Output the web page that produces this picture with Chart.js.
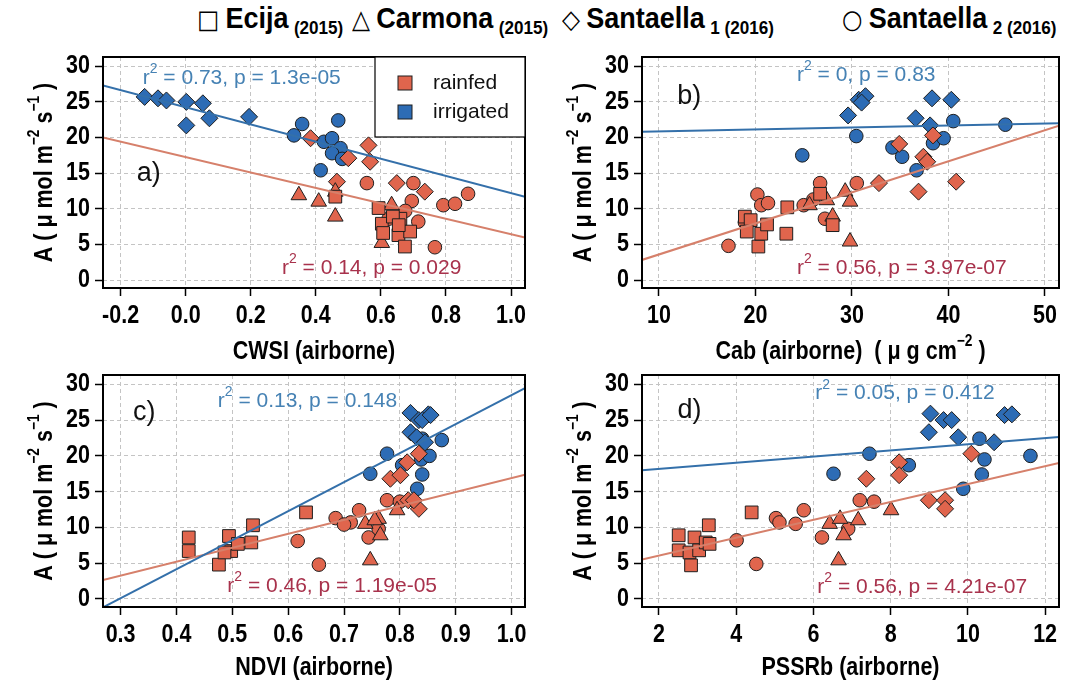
<!DOCTYPE html>
<html>
<head>
<meta charset="utf-8">
<script src="https://cdn.jsdelivr.net/npm/chart.js@4"></script>
<style>
  body { margin: 0; width: 1069px; height: 685px; background: #fff; position: relative; overflow: hidden; }
  canvas { position: absolute; }
  .site { position: absolute; top: 0; height: 40px; line-height: 36px; white-space: nowrap;
          font-family: "Liberation Sans", Arial, sans-serif; font-weight: bold; font-size: 30px; color: #000;
          transform: scaleX(0.9); transform-origin: left center; }
  .site .sym { font-family: "DejaVu Sans", sans-serif; font-weight: normal; font-size: 26px; margin-right: 7px; }
  .site sub { font-size: 19px; vertical-align: -6px; margin-left: 6px; }
</style>
</head>
<body>
<div class="site" style="left:197px"><span class="sym">□</span>Ecija<sub>(2015)</sub></div>
<div class="site" style="left:352px"><span class="sym">△</span>Carmona<sub>(2015)</sub></div>
<div class="site" style="left:562px"><span class="sym">◇</span>Santaella<sub>1 (2016)</sub></div>
<div class="site" style="left:842px"><span class="sym">○</span>Santaella<sub>2 (2016)</sub></div>

<canvas id="panelA" width="535" height="327" style="left:0;top:38px"></canvas>
<canvas id="panelB" width="534" height="327" style="left:535px;top:38px"></canvas>
<canvas id="panelC" width="535" height="320" style="left:0;top:365px"></canvas>
<canvas id="panelD" width="534" height="320" style="left:535px;top:365px"></canvas>

<script>
// A (umol m-2 s-1) against each airborne index, [x, A]
// a) CWSI
const cwsiEcija = [[0.46, 11.7], [0.593, 10.1], [0.603, 7.9], [0.607, 6.6], [0.654, 6.3], [0.69, 6.8], [0.674, 4.7], [0.66, 8.6], [0.637, 8.9], [0.655, 7.7]];
const cwsiCarmona = [[0.348, 11.9], [0.409, 11.0], [0.46, 12.4], [0.46, 8.9], [0.633, 10.5], [0.603, 5.2]];
const cwsiSant1Rainfed = [[0.384, 19.9], [0.50, 17.1], [0.562, 18.9], [0.567, 16.6], [0.465, 13.8], [0.649, 13.6], [0.735, 12.4]];
const cwsiSant1Irrigated = [[-0.126, 25.7], [-0.085, 25.5], [-0.059, 25.2], [0.002, 25.0], [0.053, 24.8], [0.073, 22.7], [0.002, 21.7], [0.195, 22.9]];
const cwsiSant2Rainfed = [[0.557, 13.6], [0.70, 13.6], [0.695, 11.1], [0.624, 8.6], [0.715, 8.2], [0.675, 9.7], [0.792, 10.5], [0.828, 10.7], [0.868, 12.1], [0.766, 4.6]];
const cwsiSant2Irrigated = [[0.333, 20.3], [0.358, 21.9], [0.469, 22.4], [0.425, 19.4], [0.45, 19.9], [0.476, 18.5], [0.45, 17.8], [0.481, 17.0], [0.415, 15.4]];

// b) Cab (ug cm-2)
const cabEcija = [[18.9, 8.9], [19.5, 8.4], [19.1, 6.8], [20.3, 4.7], [20.6, 6.5], [21.2, 7.8], [23.2, 6.5], [23.3, 10.2], [26.7, 12.1], [28.0, 7.7]];
const cabCarmona = [[29.3, 12.4], [29.8, 11.0], [29.8, 5.4], [27.4, 11.2], [25.6, 10.5], [28.0, 8.9]];
const cabSant1Rainfed = [[32.8, 13.6], [36.9, 12.4], [37.4, 17.3], [37.8, 16.6], [38.4, 20.3], [34.9, 19.1], [40.8, 13.8]];
const cabSant1Irrigated = [[29.6, 23.1], [30.7, 25.3], [31.4, 25.8], [31.0, 24.9], [36.6, 22.7], [38.3, 25.5], [40.3, 25.3], [38.1, 21.7]];
const cabSant2Rainfed = [[17.2, 4.8], [20.2, 12.0], [20.6, 10.5], [21.3, 10.8], [18.9, 8.1], [25.0, 10.5], [26.7, 13.6], [27.2, 8.6], [30.5, 13.6], [26.0, 11.3]];
const cabSant2Irrigated = [[24.85, 17.5], [30.45, 20.2], [34.2, 18.6], [35.2, 17.3], [36.7, 15.4], [38.4, 19.2], [39.5, 19.9], [40.5, 22.3], [45.9, 21.8]];

// c) NDVI
const ndviEcija = [[0.422, 8.6], [0.422, 6.7], [0.476, 4.8], [0.494, 8.8], [0.498, 6.7], [0.486, 6.5], [0.534, 7.9], [0.537, 10.3], [0.632, 12.1], [0.51, 7.7]];
const ndviCarmona = [[0.795, 12.4], [0.747, 5.4], [0.738, 10.5], [0.762, 11.2], [0.765, 8.9], [0.755, 11.0]];
const ndviSant1Rainfed = [[0.783, 16.8], [0.801, 17.3], [0.813, 19.1], [0.834, 20.3], [0.815, 13.8], [0.834, 12.6], [0.825, 13.8]];
const ndviSant1Irrigated = [[0.819, 26.0], [0.851, 25.8], [0.834, 25.0], [0.840, 25.0], [0.819, 23.3], [0.83, 22.6], [0.845, 21.9], [0.855, 25.7]];
const ndviSant2Rainfed = [[0.617, 8.1], [0.655, 4.8], [0.685, 11.3], [0.712, 10.7], [0.70, 10.4], [0.727, 12.4], [0.744, 8.6], [0.762, 9.8], [0.777, 13.8], [0.80, 13.6]];
const ndviSant2Irrigated = [[0.747, 17.5], [0.777, 20.3], [0.804, 18.7], [0.831, 15.4], [0.84, 17.4], [0.838, 19.5], [0.853, 20.0], [0.84, 22.4], [0.875, 22.2]];

// d) PSSRb
const pssrEcija = [[2.51, 8.9], [2.51, 6.8], [2.79, 6.5], [2.92, 8.6], [2.83, 4.7], [3.04, 6.8], [3.21, 7.9], [3.29, 10.3], [3.31, 7.7], [4.40, 12.1]];
const pssrCarmona = [[6.42, 10.5], [6.69, 11.2], [6.78, 8.9], [6.65, 5.4], [7.16, 11.0], [8.01, 12.4]];
const pssrSant1Rainfed = [[7.37, 16.8], [8.22, 19.1], [8.22, 17.3], [8.99, 13.8], [9.41, 13.8], [9.41, 12.6], [10.09, 20.3]];
const pssrSant1Irrigated = [[9.03, 25.9], [8.99, 23.3], [9.37, 25.0], [9.58, 25.0], [9.75, 22.6], [10.68, 21.9], [10.95, 25.7], [11.14, 25.8]];
const pssrSant2Rainfed = [[4.01, 8.2], [4.52, 4.9], [5.03, 11.3], [5.12, 10.7], [5.54, 10.5], [5.75, 12.4], [6.22, 8.6], [6.90, 9.8], [7.20, 13.8], [7.57, 13.6]];
const pssrSant2Irrigated = [[6.52, 17.5], [7.45, 20.3], [8.47, 18.7], [9.88, 15.4], [10.3, 22.4], [10.43, 19.5], [10.36, 17.4], [11.62, 20.0]];

// linear fits: [intercept, slope, r2, p] -> irrigated first, rainfed second
const cwsiFits = [[24.25, -12.06, '0.73', '1.3e-05'], [17.26, -10.83, '0.14', '0.029']];
const cabFits = [[20.57, 0.0278, '0', '0.83'], [-0.77, 0.4357, '0.56', '3.97e-07']];
const ndviFits = [[-12.06, 40.55, '0.13', '0.148'], [-2.57, 19.46, '0.46', '1.19e-05']];
const pssrFits = [[17.30, 0.432, '0.05', '0.412'], [3.57, 1.249, '0.56', '4.21e-07']];

// tick labels
const yTicks = [0, 5, 10, 15, 20, 25, 30];
const cwsiTicks = [-0.2, 0, 0.2, 0.4, 0.6, 0.8, 1.0];
const cabTicks = [10, 20, 30, 40, 50];
const ndviTicks = [0.3, 0.4, 0.5, 0.6, 0.7, 0.8, 0.9, 1.0];
const pssrTicks = [2, 4, 6, 8, 10, 12];

const treatments = ['rainfed', 'irrigated'];

const RED = '#E0654D';
const BLUE = '#2D6CB5';
const LINE_RED = '#D6806B';
const LINE_BLUE = '#3470AA';
const TEXT_RED = '#A8324C';
const TEXT_BLUE = '#4682B4';
const PLAIN = '"Liberation Sans", Arial, sans-serif';
const SQUEEZE = 0.86; // bold axis text is set narrow
const SIZES = { rect: 9, triangle: 9, rectRot: 8.5, circle: 6.8 };

// parts: [text, raised]; sx squeezes the text horizontally
function richText(ctx, parts, x, y, size, supSize, weight, align, sx) {
  let total = 0;
  const widths = parts.map(([t, up]) => {
    ctx.font = `${weight} ${up ? supSize : size}px ${PLAIN}`;
    const w = ctx.measureText(t).width * sx;
    total += w;
    return w;
  });
  let cx = align === 'center' ? x - total / 2 : align === 'right' ? x - total : x;
  ctx.textAlign = 'left';
  ctx.textBaseline = 'middle';
  parts.forEach(([t, up], i) => {
    ctx.font = `${weight} ${up ? supSize : size}px ${PLAIN}`;
    ctx.save();
    ctx.translate(cx, up ? y - size * 0.42 : y);
    ctx.scale(sx, 1);
    ctx.fillText(t, 0, 0);
    ctx.restore();
    cx += widths[i];
  });
}

const yTitle = [['A ( \u03bc mol m', 0], ['\u22122', 1], [' s', 0], ['\u22121', 1], [' )', 0]];

function makePanel(id, cfg) {
  const datasets = [];
  cfg.fits.forEach((f, i) => {
    datasets.push({
      data: cfg.xRange.map(x => ({ x: x, y: f[0] + f[1] * x })),
      showLine: true, borderColor: i === 0 ? LINE_BLUE : LINE_RED, borderWidth: 2,
      pointRadius: 0, order: 0
    });
  });
  cfg.sets.forEach(([arr, style, fill]) => {
    datasets.push({
      data: arr.map(([x, y]) => ({ x: x, y: y })),
      pointStyle: style, pointRadius: SIZES[style], pointHoverRadius: SIZES[style],
      backgroundColor: fill, borderColor: '#1e1e1e', borderWidth: 1, order: 1
    });
  });

  const grid = { color: '#c4c4c4', lineWidth: 1, tickLength: 8, tickColor: '#000', tickWidth: 1.5 };

  const decor = {
    id: 'decor',
    beforeDatasetsDraw(chart) {
      const { ctx, scales: { x, y } } = chart;
      ctx.save();
      ctx.fillStyle = '#111';
      ctx.font = `27px ${PLAIN}`;
      ctx.textAlign = 'left';
      ctx.textBaseline = 'middle';
      ctx.fillText(cfg.letter, x.getPixelForValue(cfg.letterAt[0]), y.getPixelForValue(cfg.letterAt[1]));
      cfg.fits.forEach((f, i) => {
        ctx.fillStyle = i === 0 ? TEXT_BLUE : TEXT_RED;
        const at = cfg.notesAt[i];
        richText(ctx, [['r', 0], ['2', 1], [' = ' + f[2] + ', p = ' + f[3], 0]],
          x.getPixelForValue(at[0]), y.getPixelForValue(at[1]), 21, 14, 'normal', 'left', 1);
      });
      ctx.restore();
    },
    afterDraw(chart) {
      const { ctx, chartArea: a, scales: { x, y } } = chart;
      ctx.save();
      ctx.strokeStyle = '#000';
      ctx.lineWidth = 2;
      ctx.strokeRect(a.left, a.top, a.right - a.left, a.bottom - a.top);

      // tick labels
      ctx.fillStyle = '#000';
      cfg.xTicks.forEach(v => {
        richText(ctx, [[cfg.fmt(v), 0]], x.getPixelForValue(v), a.bottom + 28, 25, 16, 'bold', 'center', SQUEEZE);
      });
      yTicks.forEach(v => {
        richText(ctx, [[String(v), 0]], a.left - 13, y.getPixelForValue(v), 25, 16, 'bold', 'right', SQUEEZE);
      });

      // axis titles
      richText(ctx, cfg.xTitle, (a.left + a.right) / 2, a.bottom + cfg.xTitleGap, 25, 16, 'bold', 'center', SQUEEZE);
      ctx.translate(a.left - 58, (a.top + a.bottom) / 2);
      ctx.rotate(-Math.PI / 2);
      richText(ctx, yTitle, 0, 0, 25, 16, 'bold', 'center', SQUEEZE);
      ctx.restore();

      if (cfg.legend) {
        ctx.save();
        const bx = a.right - 150, by = a.top;
        ctx.fillStyle = '#fff';
        ctx.fillRect(bx, by, 150, 80);
        ctx.strokeStyle = '#000';
        ctx.lineWidth = 1.2;
        ctx.strokeRect(bx, by, 150, 80);
        treatments.forEach((t, i) => {
          const cy = by + 26 + i * 29;
          ctx.fillStyle = i === 0 ? RED : BLUE;
          ctx.fillRect(a.right - 127, cy - 7, 14, 14);
          ctx.strokeStyle = '#1e1e1e';
          ctx.lineWidth = 1;
          ctx.strokeRect(a.right - 127, cy - 7, 14, 14);
          ctx.fillStyle = '#111';
          ctx.font = `21px ${PLAIN}`;
          ctx.textAlign = 'left';
          ctx.textBaseline = 'middle';
          ctx.fillText(t, a.right - 92, cy);
        });
        ctx.restore();
      }
    }
  };

  new Chart(document.getElementById(id), {
    type: 'scatter',
    data: { datasets: datasets },
    options: {
      responsive: false,
      animation: false,
      devicePixelRatio: 1,
      layout: { padding: cfg.padding },
      plugins: { legend: { display: false }, tooltip: { enabled: false } },
      scales: {
        x: {
          type: 'linear', min: cfg.xRange[0], max: cfg.xRange[1],
          afterBuildTicks: s => { s.ticks = cfg.xTicks.map(v => ({ value: v })); },
          afterFit: s => { s.height = cfg.xHeight; s.paddingLeft = 0; s.paddingRight = 0; },
          grid: grid,
          border: { display: false, dash: [4, 3] },
          ticks: { display: false }
        },
        y: {
          type: 'linear', min: -1.12, max: 31.3,
          afterBuildTicks: s => { s.ticks = yTicks.map(v => ({ value: v })); },
          afterFit: s => { s.width = cfg.yWidth; s.paddingTop = 0; s.paddingBottom = 0; },
          grid: grid,
          border: { display: false, dash: [4, 3] },
          ticks: { display: false }
        }
      }
    },
    plugins: [decor]
  });
}

const oneDec = v => v.toFixed(1);
const whole = v => String(v);

makePanel('panelA', {
  sets: [[cwsiEcija, 'rect', RED], [cwsiCarmona, 'triangle', RED], [cwsiSant1Rainfed, 'rectRot', RED],
         [cwsiSant1Irrigated, 'rectRot', BLUE], [cwsiSant2Rainfed, 'circle', RED], [cwsiSant2Irrigated, 'circle', BLUE]],
  fits: cwsiFits, xRange: [-0.254, 1.043], xTicks: cwsiTicks, fmt: oneDec,
  xTitle: [['CWSI (airborne)', 0]], letter: 'a)', letterAt: [-0.15, 15.0],
  notesAt: [[-0.132, 28.3], [0.296, 1.7]], legend: true,
  padding: { top: 19, right: 8, left: 0, bottom: 0 }, yWidth: 103, xHeight: 77, xTitleGap: 64
});

makePanel('panelB', {
  sets: [[cabEcija, 'rect', RED], [cabCarmona, 'triangle', RED], [cabSant1Rainfed, 'rectRot', RED],
         [cabSant1Irrigated, 'rectRot', BLUE], [cabSant2Rainfed, 'circle', RED], [cabSant2Irrigated, 'circle', BLUE]],
  fits: cabFits, xRange: [8.24, 51.46], xTicks: cabTicks, fmt: whole,
  xTitle: [['Cab (airborne)  ( \u03bc g cm', 0], ['\u22122', 1], [' )', 0]], letter: 'b)', letterAt: [11.9, 25.7],
  notesAt: [[24.3, 28.75], [24.3, 1.7]], legend: false,
  padding: { top: 19, right: 3, left: 0, bottom: 0 }, yWidth: 107, xHeight: 77, xTitleGap: 64
});

makePanel('panelC', {
  sets: [[ndviEcija, 'rect', RED], [ndviCarmona, 'triangle', RED], [ndviSant1Rainfed, 'rectRot', RED],
         [ndviSant1Irrigated, 'rectRot', BLUE], [ndviSant2Rainfed, 'circle', RED], [ndviSant2Irrigated, 'circle', BLUE]],
  fits: ndviFits, xRange: [0.2685, 1.024], xTicks: ndviTicks, fmt: oneDec,
  xTitle: [['NDVI (airborne)', 0]], letter: 'c)', letterAt: [0.322, 26.1],
  notesAt: [[0.474, 27.7], [0.491, 1.8]], legend: false,
  padding: { top: 10, right: 8, left: 0, bottom: 0 }, yWidth: 103, xHeight: 78, xTitleGap: 61
});

makePanel('panelD', {
  sets: [[pssrEcija, 'rect', RED], [pssrCarmona, 'triangle', RED], [pssrSant1Rainfed, 'rectRot', RED],
         [pssrSant1Irrigated, 'rectRot', BLUE], [pssrSant2Rainfed, 'circle', RED], [pssrSant2Irrigated, 'circle', BLUE]],
  fits: pssrFits, xRange: [1.56, 12.36], xTicks: pssrTicks, fmt: whole,
  xTitle: [['PSSRb (airborne)', 0]], letter: 'd)', letterAt: [2.48, 26.3],
  notesAt: [[6.05, 28.7], [6.1, 1.7]], legend: false,
  padding: { top: 10, right: 3, left: 0, bottom: 0 }, yWidth: 107, xHeight: 78, xTitleGap: 61
});
</script>
</body>
</html>
